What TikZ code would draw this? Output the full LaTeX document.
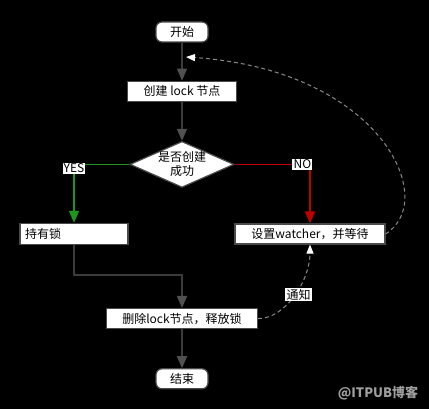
\documentclass[tikz,border=0pt]{standalone}
\usepackage{fontspec}
\setmainfont{Noto Sans CJK SC}
\usepackage{xcolor}
\usepackage{tikz}
\usetikzlibrary{shapes.geometric, arrows.meta, positioning}
\definecolor{linegray}{HTML}{3C3C3C}
\definecolor{tipgray}{HTML}{505050}
\definecolor{framegray}{HTML}{4A4A4A}
\definecolor{yesgreen}{HTML}{1E961E}
\definecolor{nored}{HTML}{BE0000}
\definecolor{dashgray}{HTML}{8A8A8A}
\tikzstyle{arrow} = [line width=1.6pt, draw=linegray, -{Triangle[width=10pt,length=12pt,color=tipgray]}]
\tikzstyle{yes-arrow} = [line width=1.6pt, draw=yesgreen, -{Triangle[width=10pt,length=12pt,color=yesgreen]}]
\tikzstyle{no-arrow} = [line width=1.6pt, draw=nored, -{Triangle[width=10pt,length=12pt,color=nored]}]
\tikzstyle{dash-arrow} = [line width=1pt, draw=dashgray, dash pattern=on 4pt off 3pt, -{Triangle[width=7pt,length=9pt,color=white]}]
\tikzstyle{box} = [rectangle, draw=framegray, line width=1.2pt, fill=white, minimum height=20pt, inner sep=4pt, text centered, font=\fontsize{12}{14}\selectfont]
\tikzstyle{term} = [box, rounded corners=6pt, minimum width=52pt]
\tikzstyle{decision} = [diamond, draw=framegray, line width=1.2pt, fill=white, aspect=2.2, minimum width=104pt, minimum height=46pt, inner xsep=-6pt, inner ysep=-7pt, align=center, font=\fontsize{12}{14}\selectfont]
\tikzstyle{lbl} = [fill=white, inner sep=1.2pt, font=\fontsize{12}{13}\selectfont]

\begin{document}
\begin{tikzpicture}[x=1pt, y=1pt]

  % Background
  \fill[black] (0,0) rectangle (429,409);
  \useasboundingbox (0,0) rectangle (429,409);

  % Nodes
  \node (start) [term] at (182,377) {开始};
  \node (create) [box, minimum width=109pt, below=38pt of start] {创建 lock 节点};
  \node (decide) [decision, below=39pt of create] {是否创建\\成功};
  \node (hold) [box, text width=98pt, align=left, inner sep=5pt, minimum height=20pt] at (74,175) {持有锁};
  \node (wait) [box, minimum width=150pt] at (310,175) {设置watcher，并等待};
  \node (release) [box, minimum width=151pt, below=120pt of decide] {删除lock节点，释放锁};
  \node (end) [term, below=39pt of release] {结束};
  \coordinate (back) at (186,352);

  % Arrows with labels
  \draw[arrow] (start) -- (create);
  \draw[arrow] (create) -- (decide);
  \draw[yes-arrow] (decide.west) -| node[lbl, pos=0.5, yshift=-4pt, text=black] {YES} (hold.north);
  \draw[no-arrow] (decide.east) -| node[lbl, pos=0.45, text=black] {NO} (wait.north);
  \draw[arrow] (hold.south) -- ++(0,-30) -| (release.north);
  \draw[arrow] (release) -- (end);
  \draw[dash-arrow] (release.east) .. controls +(28,0) and +(0,-35) .. node[lbl, pos=0.5, xshift=4pt] {通知} (wait.south);
  \draw[dash-arrow] (wait.east) .. controls (440,209) and (380,339) .. (back);

  % Watermark
  \node (mark) [text=gray!75, font=\fontsize{13}{14}\selectfont\bfseries] at (378,16) {@ITPUB博客};

\end{tikzpicture}
\end{document}
